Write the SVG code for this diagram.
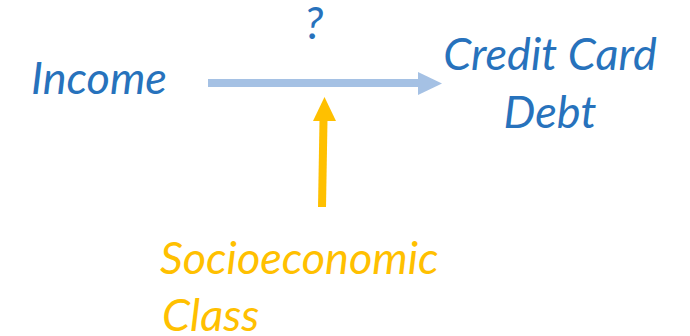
<svg xmlns="http://www.w3.org/2000/svg" width="690" height="336" viewBox="0 0 690 336">
<style>
.t{font-family:Lato,"Open Sans","Liberation Sans",sans-serif;font-style:italic;font-size:45px}
.b{fill:#2772BC}
.y{fill:#FFC000}
</style>
<rect width="690" height="336" fill="#fff"/>
<g id="connectors">
<path d="M208 83 H419" stroke="#A5C1E4" stroke-width="8" fill="none"/>
<polygon points="418,72 442,83.5 418,95" fill="#A5C1E4"/>
<path d="M322 207 L323.5 120" stroke="#FFC000" stroke-width="8" fill="none"/>
<polygon points="313,121 324.5,97 336,121" fill="#FFC000"/>
</g>
<g id="q"><text class="t b" x="314" y="39" text-anchor="middle">?</text></g>
<g id="income"><text class="t b" x="31" y="94">Income</text></g>
<g id="debt"><text class="t b" x="550" y="70" text-anchor="middle">Credit Card</text><text class="t b" x="550" y="128" text-anchor="middle">Debt</text></g>
<g id="ses"><text class="t y" x="160" y="274">Socioeconomic</text><text class="t y" x="162" y="331">Class</text></g>
</svg>
